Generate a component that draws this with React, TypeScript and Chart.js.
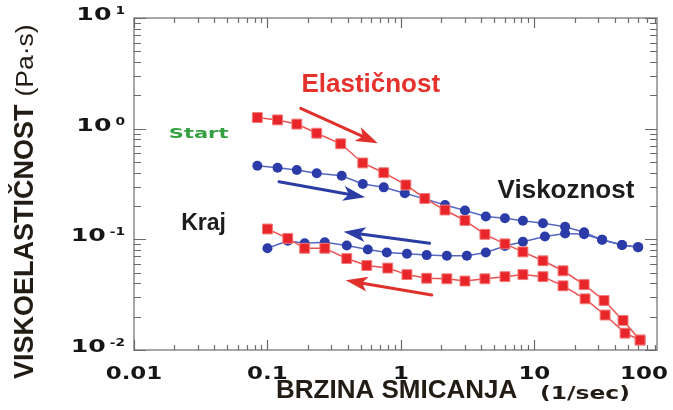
import React, { useEffect, useRef } from 'react';
import { Chart, registerables } from 'chart.js';

Chart.register(...registerables);

// ---- data ----
// Elasticity, increasing shear rate ("Start" sweep)
const elasticUpX = [0.084, 0.119, 0.166, 0.234, 0.354, 0.518, 0.744, 1.09, 1.51, 2.14, 3.02, 4.26, 6.02, 8.21, 11.6, 16.4, 23.6, 33.3, 46.2, 62.0];
const elasticUpY = [1.26, 1.2, 1.1, 0.91, 0.73, 0.49, 0.4, 0.31, 0.234, 0.184, 0.148, 0.111, 0.091, 0.077, 0.064, 0.052, 0.039, 0.028, 0.0185, 0.0123];
// Elasticity, decreasing shear rate (return to "Kraj")
const elasticDownX = [0.1, 0.142, 0.19, 0.269, 0.393, 0.555, 0.797, 1.11, 1.56, 2.21, 3.02, 4.26, 6.02, 8.21, 11.6, 16.4, 24.0, 33.9, 47.8, 62.0];
const elasticDownY = [0.124, 0.102, 0.083, 0.083, 0.067, 0.058, 0.055, 0.048, 0.0445, 0.044, 0.042, 0.044, 0.046, 0.048, 0.046, 0.038, 0.029, 0.0207, 0.0142, 0.0123];
// Viscosity, increasing shear rate
const viscUpX = [0.084, 0.119, 0.166, 0.234, 0.36, 0.518, 0.744, 1.07, 1.51, 2.14, 3.02, 4.33, 6.02, 8.21, 11.6, 17.0, 23.6, 32.2, 45.4, 59.9];
const viscUpY = [0.463, 0.444, 0.423, 0.395, 0.376, 0.316, 0.295, 0.261, 0.232, 0.204, 0.182, 0.161, 0.155, 0.147, 0.14, 0.13, 0.116, 0.099, 0.089, 0.085];
// Viscosity, decreasing shear rate
const viscDownX = [0.1, 0.142, 0.19, 0.269, 0.393, 0.565, 0.784, 1.11, 1.56, 2.21, 3.12, 4.33, 6.02, 8.21, 12.0, 17.0, 23.6, 32.2, 45.4, 59.9];
const viscDownY = [0.083, 0.097, 0.092, 0.094, 0.088, 0.081, 0.076, 0.074, 0.072, 0.071, 0.071, 0.076, 0.087, 0.095, 0.106, 0.113, 0.111, 0.099, 0.089, 0.085];

// ---- axes ----
const xMin = 0.01;
const xMax = 83;
const yMin = 0.01;
const yMax = 10;
const xTickValues = [0.01, 0.1, 1, 10, 100];
const xTickLabels = ['0.01', '0.1', '1', '10', '100'];
const yTickValues = [0.01, 0.1, 1, 10];
const yTickExponents = ['-2', '-1', '0', '1'];
const xTitleMain = 'BRZINA SMICANJA';
const xTitleUnit = '(1/sec)';
const yTitleMain = 'VISKOELASTIČNOST';
const yTitleUnit = '(Pa·s)';

// ---- annotations (data coordinates) ----
const labelTexts = ['Elastičnost', 'Start', 'Viskoznost', 'Kraj'];
const labelX = [0.5945, 0.0305, 17.26, 0.0332];
const labelY = [2.145, 0.823, 0.236, 0.1215];
const arrowFromX = [0.1775, 0.1221, 1.639, 1.703];
const arrowFromY = [1.528, 0.332, 0.0921, 0.0314];
const arrowToX = [0.671, 0.539, 0.3717, 0.386];
const arrowToY = [0.738, 0.24, 0.1172, 0.0426];

const RED = '#e8262a';
const BLUE = '#2b3ca8';
const labelStyles = [
  { color: '#e5322d', font: 'bold 26px "Liberation Sans", Arial, sans-serif', sx: 1 },
  { color: '#35a040', font: 'bold 14px "DejaVu Sans", sans-serif', sx: 1.5 },
  { color: '#1c1c1c', font: 'bold 26px "Liberation Sans", Arial, sans-serif', sx: 1 },
  { color: '#1c1c1c', font: 'bold 23px "Liberation Sans", Arial, sans-serif', sx: 1 },
];
const arrowColors = ['#e0302c', '#2b3da5', '#2b3da5', '#e0302c'];

function drawStretched(ctx: CanvasRenderingContext2D, text: string, x: number, y: number, font: string, sx: number, align: 'left' | 'center' | 'right') {
  ctx.save();
  ctx.font = font;
  const w = ctx.measureText(text).width * sx;
  const left = align === 'center' ? x - w / 2 : align === 'right' ? x - w : x;
  ctx.translate(left, y);
  ctx.scale(sx, 1);
  ctx.textAlign = 'left';
  ctx.textBaseline = 'alphabetic';
  ctx.fillText(text, 0, 0);
  ctx.restore();
  return w;
}

const decor = {
  id: 'decor',
  beforeDatasetsDraw(chart: any) {
    const { ctx, chartArea: a, scales } = chart;
    const xs = scales.x;
    const ys = scales.y;
    ctx.save();
    ctx.strokeStyle = '#8a8a8a';
    ctx.lineWidth = 1.5;
    ctx.strokeRect(a.left, a.top, a.right - a.left, a.bottom - a.top);
    ctx.strokeStyle = '#6a6a6a';
    ctx.lineWidth = 1.2;
    ctx.beginPath();
    for (let d = -2; d <= 1; d++) {
      for (let m = 1; m <= 9; m++) {
        const v = m * Math.pow(10, d);
        if (v >= xs.min * 0.999 && v <= xs.max * 1.001) {
          const px = Math.round(xs.getPixelForValue(v)) + 0.5;
          const L = m === 1 ? 10 : 5;
          ctx.moveTo(px, a.bottom);
          ctx.lineTo(px, a.bottom - L);
          ctx.moveTo(px, a.top);
          ctx.lineTo(px, a.top + L);
        }
        if (v >= ys.min * 0.999 && v <= ys.max * 1.001) {
          const py = Math.round(ys.getPixelForValue(v)) + 0.5;
          const L = m === 1 ? 12 : 7;
          ctx.moveTo(a.left, py);
          ctx.lineTo(a.left + L, py);
          ctx.moveTo(a.right, py);
          ctx.lineTo(a.right - L, py);
        }
      }
    }
    ctx.stroke();
    ctx.restore();
  },
  afterDatasetsDraw(chart: any) {
    const { ctx, scales } = chart;
    const xs = scales.x;
    const ys = scales.y;
    ctx.save();
    // arrows
    for (let i = 0; i < arrowFromX.length; i++) {
      const x0 = xs.getPixelForValue(arrowFromX[i]);
      const y0 = ys.getPixelForValue(arrowFromY[i]);
      const x1 = xs.getPixelForValue(arrowToX[i]);
      const y1 = ys.getPixelForValue(arrowToY[i]);
      const dx = x1 - x0;
      const dy = y1 - y0;
      const len = Math.hypot(dx, dy);
      const ux = dx / len;
      const uy = dy / len;
      const nx = -uy;
      const ny = ux;
      const head = 22;
      const hw = 7.5;
      ctx.strokeStyle = arrowColors[i];
      ctx.fillStyle = arrowColors[i];
      ctx.lineWidth = 3;
      ctx.lineCap = 'round';
      ctx.beginPath();
      ctx.moveTo(x0, y0);
      ctx.lineTo(x1 - ux * head * 0.7, y1 - uy * head * 0.7);
      ctx.stroke();
      ctx.beginPath();
      ctx.moveTo(x1, y1);
      ctx.lineTo(x1 - ux * head + nx * hw, y1 - uy * head + ny * hw);
      ctx.lineTo(x1 - ux * head * 0.75, y1 - uy * head * 0.75);
      ctx.lineTo(x1 - ux * head - nx * hw, y1 - uy * head - ny * hw);
      ctx.closePath();
      ctx.fill();
    }
    // text labels
    for (let i = 0; i < labelTexts.length; i++) {
      const st = labelStyles[i];
      ctx.fillStyle = st.color;
      drawStretched(ctx, labelTexts[i], xs.getPixelForValue(labelX[i]), ys.getPixelForValue(labelY[i]), st.font, st.sx, 'center');
    }
    ctx.restore();
  },
  afterDraw(chart: any) {
    const { ctx, chartArea: a, scales, width } = chart;
    const xs = scales.x;
    const ys = scales.y;
    ctx.save();
    ctx.fillStyle = '#151515';
    const tickFont = 'bold 17px "DejaVu Sans", sans-serif';
    const yTickFont = 'bold 18px "DejaVu Sans", sans-serif';
    const sx = 1.35;
    // x tick labels
    for (let i = 0; i < xTickValues.length; i++) {
      ctx.font = tickFont;
      const w = ctx.measureText(xTickLabels[i]).width * sx;
      const px = Math.min(xs.getPixelForValue(xTickValues[i]), width - 5 - w / 2);
      drawStretched(ctx, xTickLabels[i], px, a.bottom + 29, tickFont, sx, 'center');
    }
    // y tick labels: 10 with superscript exponent
    const expFont = 'bold 11px "DejaVu Sans", sans-serif';
    for (let i = 0; i < yTickValues.length; i++) {
      const py = ys.getPixelForValue(yTickValues[i]);
      ctx.font = expFont;
      const ew = ctx.measureText(yTickExponents[i]).width * 1.25;
      const right = a.left - 9;
      drawStretched(ctx, yTickExponents[i], right - ew, py - 4, expFont, 1.25, 'left');
      drawStretched(ctx, '10', right - ew - 4, py + 2, yTickFont, 1.4, 'right');
    }
    // x title
    ctx.fillStyle = '#221c14';
    ctx.font = 'bold 26px "Liberation Sans", Arial, sans-serif';
    ctx.textAlign = 'left';
    ctx.textBaseline = 'alphabetic';
    ctx.fillText(xTitleMain, 276, 398);
    drawStretched(ctx, xTitleUnit, 540, 399, 'bold 18px "DejaVu Sans", sans-serif', 1.3, 'left');
    // y title
    ctx.save();
    ctx.translate(33, 379);
    ctx.rotate(-Math.PI / 2);
    ctx.font = 'bold 27px "Liberation Sans", Arial, sans-serif';
    ctx.fillText(yTitleMain, 0, 0);
    const mw = ctx.measureText(yTitleMain).width;
    drawStretched(ctx, yTitleUnit, mw + 8, 0, '23px "Liberation Sans", Arial, sans-serif', 1.15, 'left');
    ctx.restore();
    ctx.restore();
  },
};

function pts(xs: number[], ys: number[]) {
  return xs.map((x, i) => ({ x, y: ys[i] }));
}

export default function App() {
  const ref = useRef<HTMLCanvasElement | null>(null);
  useEffect(() => {
    if (!ref.current) return;
    const redStyle = {
      showLine: true,
      borderColor: '#ec5050',
      borderWidth: 1.5,
      pointStyle: 'rect',
      pointRadius: 7,
      pointBackgroundColor: RED,
      pointBorderColor: '#f27a7a',
      pointBorderWidth: 1,
    };
    const blueStyle = {
      showLine: true,
      borderColor: '#5667c2',
      borderWidth: 1.5,
      pointStyle: 'circle',
      pointRadius: 5,
      pointBackgroundColor: BLUE,
      pointBorderColor: BLUE,
      pointBorderWidth: 0,
    };
    const chart = new Chart(ref.current, {
      type: 'scatter',
      data: {
        datasets: [
          { label: 'Elastičnost ↑', data: pts(elasticUpX, elasticUpY), ...redStyle },
          { label: 'Elastičnost ↓', data: pts(elasticDownX, elasticDownY), ...redStyle },
          { label: 'Viskoznost ↑', data: pts(viscUpX, viscUpY), ...blueStyle },
          { label: 'Viskoznost ↓', data: pts(viscDownX, viscDownY), ...blueStyle },
        ] as any,
      },
      options: {
        animation: false,
        responsive: false,
        devicePixelRatio: 1,
        layout: { padding: { top: 18, right: 16, left: 0, bottom: 0 } },
        plugins: { legend: { display: false }, tooltip: { enabled: false } },
        scales: {
          x: {
            type: 'logarithmic',
            min: xMin,
            max: xMax,
            ticks: { display: false },
            grid: { display: false },
            border: { display: false },
            afterFit: (s: any) => { s.height = 60; },
          },
          y: {
            type: 'logarithmic',
            min: yMin,
            max: yMax,
            ticks: { display: false },
            grid: { display: false },
            border: { display: false },
            afterFit: (s: any) => { s.width = 134; },
          },
        },
      } as any,
      plugins: [decor],
    });
    return () => chart.destroy();
  }, []);
  return (
    <div style={{ position: 'fixed', left: 0, top: 0, width: 673, height: 410, background: '#fff' }}>
      <canvas ref={ref} width={673} height={410} />
    </div>
  );
}
